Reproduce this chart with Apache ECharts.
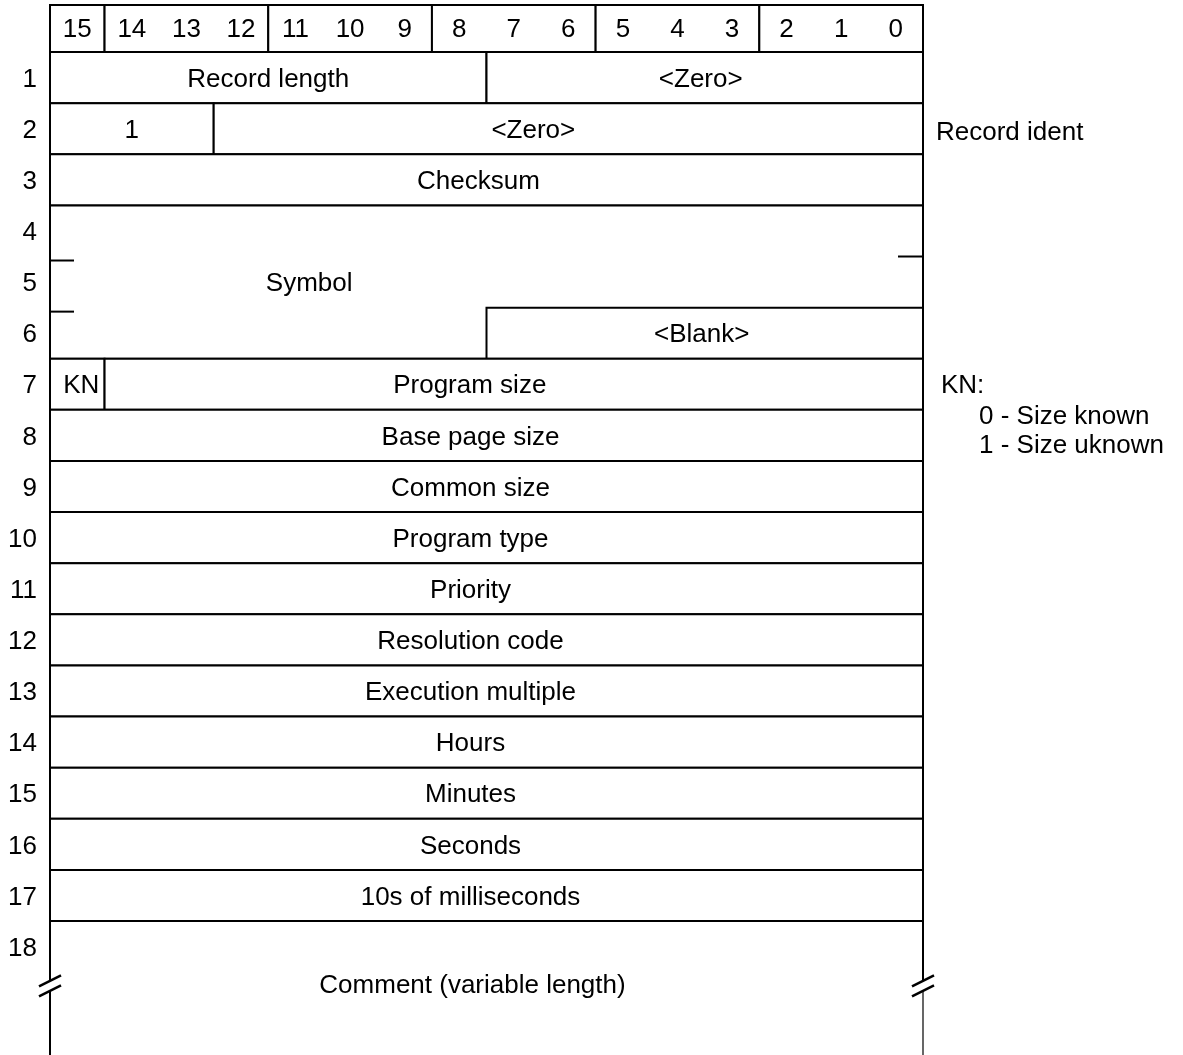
<!DOCTYPE html>
<html><head><meta charset="utf-8">
<script src="https://cdn.jsdelivr.net/npm/echarts@6/dist/echarts.min.js"></script>
<style>html,body{margin:0;padding:0;background:#fff}#c{width:1183px;height:1055px}</style>
</head><body><div id="c"></div>
<script>
// ---- data ----
const bitLabels = ['15','14','13','12','11','10','9','8','7','6','5','4','3','2','1','0'];
const bitGroupHigh = [15, 14, 11, 8, 5, 2];
const bitGroupLow  = [15, 12, 9, 6, 3, 0];
const rowLabels = ['1','2','3','4','5','6','7','8','9','10','11','12','13','14','15','16','17','18'];
const fieldNames = ['Record length','<Zero>','1','<Zero>','Checksum','Symbol','<Blank>','KN','Program size',
  'Base page size','Common size','Program type','Priority','Resolution code','Execution multiple',
  'Hours','Minutes','Seconds','10s of milliseconds','Comment (variable length)'];
const fieldRowFirst = [1,1,2,2,3,4,6,7,7,8,9,10,11,12,13,14,15,16,17,18];
const fieldRowLast  = [1,1,2,2,3,6,6,7,7,8,9,10,11,12,13,14,15,16,17,18];
const fieldBitHigh  = [15,7,15,12,15,15,7,15,14,15,15,15,15,15,15,15,15,15,15,15];
const fieldBitLow   = [8,0,13,0,0,0,0,15,0,0,0,0,0,0,0,0,0,0,0,0];
const noteTexts = ['Record ident','KN:','0 - Size known','1 - Size uknown'];
const noteRows  = [2, 7, 7, 7];

// ---- styles / layout ----
const FONT = '"Liberation Sans", Arial, sans-serif';
const FS = 26;
const LW = 2;
const HEADER_TOP = -0.92;
const Y_MAX = 19.62;
const openField = fieldNames.length - 1;          // variable-length last field
// horizontal label nudges (px) to follow the original's label placement
const labelShift = {1:-4, 3:-35, 4:-8, 6:-3, 7:4, 8:-44, 19:-14};
const wideShift = -16;
const symbolLabelBitsFromLeft = 4.75;
const noteDx = [13, 18, 56, 56];
const noteDy = [4, 2, 33, 62];

function txt(text, x, y, align) {
  return {type:'text', style:{text, x, y, align: align || 'center', verticalAlign:'middle',
    fontFamily: FONT, fontSize: FS, fill:'#000'}};
}
function line(x1, y1, x2, y2, w) {
  return {type:'line', shape:{x1, y1, x2, y2}, style:{stroke:'#000', lineWidth: w || LW, lineCap:'butt'}};
}
function occupied(row, bit, except) {
  for (let i = 0; i < fieldNames.length; i++) {
    if (i === except) continue;
    if (row >= fieldRowFirst[i] && row <= fieldRowLast[i] && bit <= fieldBitHigh[i] && bit >= fieldBitLow[i]) return true;
  }
  return false;
}

const fieldData = fieldNames.map((n, i) => [fieldBitHigh[i] + 1, fieldRowFirst[i] - 1, fieldBitLow[i], fieldRowLast[i], i]);
const groupData = bitGroupHigh.map((h, i) => [h + 1, HEADER_TOP, bitGroupLow[i], 0, i]);

const option = {
  animation: false,
  backgroundColor: '#fff',
  grid: {left: 50, width: 873, top: 5, height: 1050},
  xAxis: {type:'value', min:0, max:16, inverse:true, show:false},
  yAxis: {type:'value', min:HEADER_TOP, max:Y_MAX, inverse:true, show:false},
  series: [
    { // header groups
      type:'custom', clip:false, data: groupData, encode:{x:[0,2], y:[1,3]},
      renderItem(params, api) {
        const p1 = api.coord([api.value(0), api.value(1)]);
        const p2 = api.coord([api.value(2), api.value(3)]);
        const children = [{type:'rect', shape:{x:p1[0], y:p1[1], width:p2[0]-p1[0], height:p2[1]-p1[1]},
          style:{fill:'#fff', stroke:'#000', lineWidth:LW}}];
        for (let b = api.value(0) - 1; b >= api.value(2); b--) {
          const c = api.coord([b + 0.5, (api.value(1) + api.value(3)) / 2]);
          children.push(txt(bitLabels[15 - b], c[0], c[1] + 1));
        }
        return {type:'group', children};
      }
    },
    { // fields
      type:'custom', clip:false, data: fieldData, encode:{x:[0,2], y:[1,3]},
      renderItem(params, api) {
        const i = api.value(4);
        const p1 = api.coord([api.value(0), api.value(1)]);
        const p2 = api.coord([api.value(2), api.value(3)]);
        const children = [];
        if (i === openField) {
          const bottom = api.coord([0, Y_MAX])[1];
          const brk = api.coord([0, 18.27])[1];
          [p1[0], p2[0]].forEach((x, k) => {
            children.push(line(x, p1[1], x, brk - 5));
            children.push(line(x, brk + 5, x, bottom, k === 0 ? LW : 1.2));
            children.push(line(x - 11, brk - 5 + 5.5, x + 11, brk - 5 - 5.5, 2.5));
            children.push(line(x - 11, brk + 5 + 5.5, x + 11, brk + 5 - 5.5, 2.5));
          });
          children.push(line(p1[0], p1[1], p2[0], p1[1]));
        } else {
          children.push({type:'rect', shape:{x:p1[0], y:p1[1], width:p2[0]-p1[0], height:p2[1]-p1[1]},
            style:{fill:'#fff', stroke:'#000', lineWidth:LW}});
          for (let r = fieldRowFirst[i]; r < fieldRowLast[i]; r++) {
            const y = api.coord([0, r])[1];
            children.push(line(p1[0], y + 4, p1[0] + 24, y + 4));
            if (!occupied(r + 1, fieldBitLow[i], i)) children.push(line(p2[0] - 25, y, p2[0], y));
          }
        }
        return {type:'group', children};
      }
    },
    { // field labels
      type:'custom', clip:false, data: fieldData, encode:{x:[0,2], y:[1,3]},
      renderItem(params, api) {
        const i = api.value(4);
        let cx, cy;
        if (i === 5) {
          cx = api.coord([16 - symbolLabelBitsFromLeft, 0])[0];
          cy = api.coord([0, 4.5])[1];
        } else if (i === openField) {
          cx = (api.coord([api.value(0), 0])[0] + api.coord([api.value(2), 0])[0]) / 2;
          cy = api.coord([0, 18.23])[1];
        } else {
          const p1 = api.coord([api.value(0), api.value(1)]);
          const p2 = api.coord([api.value(2), api.value(3)]);
          cx = (p1[0] + p2[0]) / 2; cy = (p1[1] + p2[1]) / 2;
        }
        let dx = labelShift[i];
        if (dx === undefined) dx = (fieldBitHigh[i] === 15 && fieldBitLow[i] === 0 && i !== 5) ? wideShift : 0;
        return txt(fieldNames[i], cx + dx, cy + 2);
      }
    },
    { // row numbers
      type:'custom', clip:false, data: rowLabels.map((r, i) => [16, i + 0.5, i]), encode:{x:0, y:1},
      renderItem(params, api) {
        const c = api.coord([api.value(0), api.value(1)]);
        return txt(rowLabels[api.value(2)], c[0] - 13, c[1] + 2, 'right');
      }
    },
    { // side notes
      type:'custom', clip:false, data: noteTexts.map((t, i) => [0, noteRows[i] - 0.5, i]), encode:{x:0, y:1},
      renderItem(params, api) {
        const i = api.value(2);
        const c = api.coord([api.value(0), api.value(1)]);
        return txt(noteTexts[i], c[0] + noteDx[i], c[1] + noteDy[i], 'left');
      }
    }
  ]
};
const chart = echarts.init(document.getElementById('c'), null, {renderer:'canvas'});
chart.setOption(option);
</script></body></html>
